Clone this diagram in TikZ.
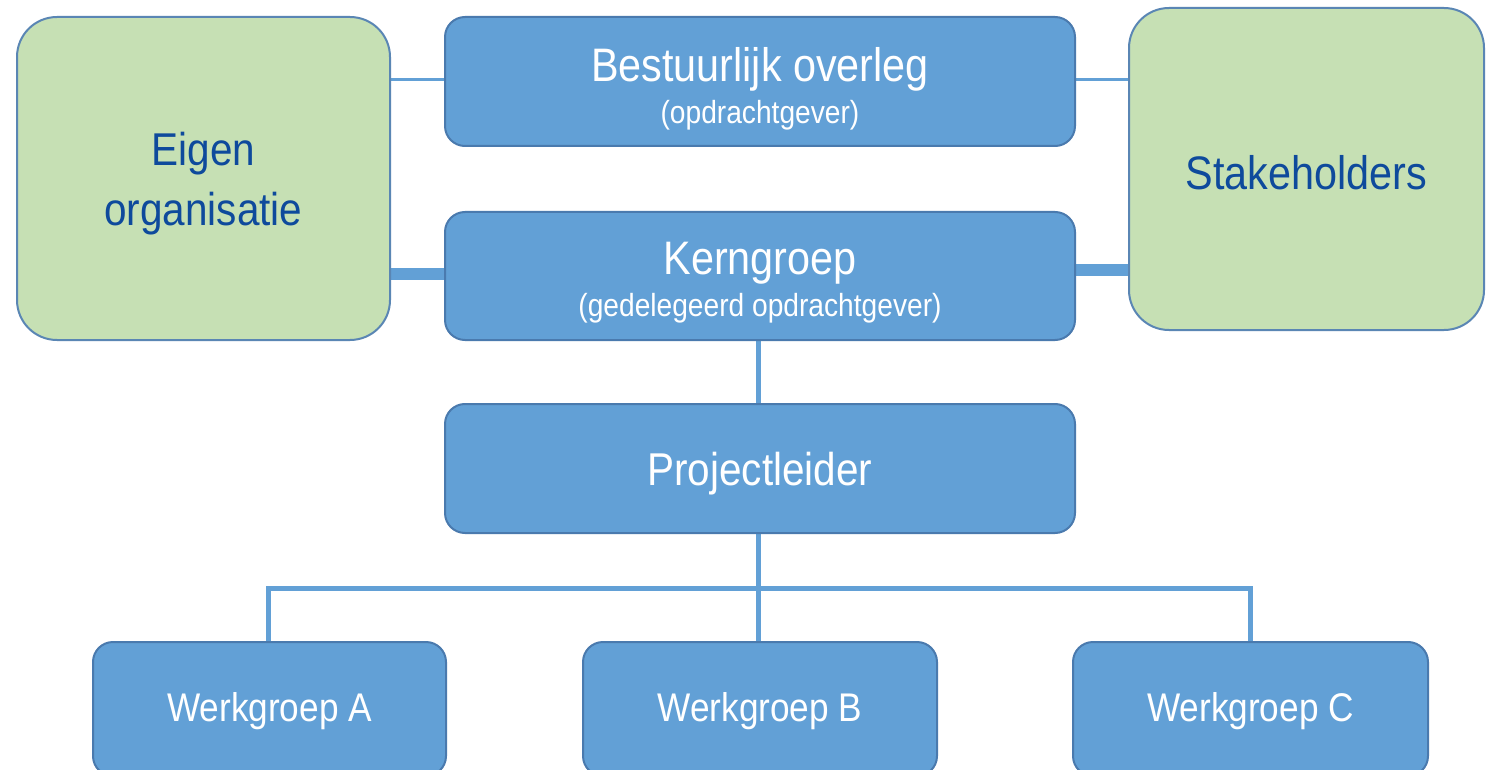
\documentclass[tikz,border=0pt]{standalone}
\usepackage{fontspec}
\setmainfont{Liberation Sans}[FakeStretch=0.88]
\usetikzlibrary{backgrounds}
\definecolor{boxblue}{HTML}{62A0D6}
\definecolor{boxblueline}{HTML}{4A7AAE}
\definecolor{boxgreen}{HTML}{C6E0B4}
\definecolor{greenline}{HTML}{5A86B4}
\definecolor{darktext}{HTML}{0E4A9C}
\definecolor{connblue}{HTML}{62A0D6}
\tikzset{
  bluebox/.style={draw=boxblueline, line width=2pt, fill=boxblue, rounded corners=20pt,
    text=white, align=center, inner sep=0pt},
  greenbox/.style={draw=greenline, line width=2pt, fill=boxgreen, rounded corners=40pt,
    text=darktext, align=center, inner sep=0pt},
  thinconn/.style={draw=connblue, line width=3pt},
  thickconn/.style={draw=connblue, line width=12pt},
  conn/.style={draw=connblue, line width=5pt},
}
\newcommand{\subline}[1]{{\fontsize{32}{32}\selectfont #1}}
\newcommand{\dn}[2]{\raisebox{-#1}[\height][\depth]{#2}}
\begin{document}
\begin{tikzpicture}[x=1pt,y=-1pt]
\useasboundingbox (0,0) rectangle (1486,770);

\node[greenbox, minimum width=373pt, minimum height=323pt,
  font=\fontsize{46}{60}\selectfont] (eo) at (203.5,178.5) {\dn{5pt}{Eigen}\\\dn{5pt}{organisatie}};
\node[greenbox, minimum width=355pt, minimum height=322pt,
  font=\fontsize{47}{47}\selectfont] (sh) at (1306.5,169) {\dn{4pt}{Stakeholders}};

\node[bluebox, minimum width=630pt, minimum height=129pt,
  font=\fontsize{47}{46}\selectfont] (bo) at (760,81.5)
  {\dn{7pt}{Bestuurlijk overleg}\\[-4pt]\dn{7pt}{\subline{(opdrachtgever)}}};
\node[bluebox, minimum width=630pt, minimum height=128pt,
  font=\fontsize{47}{46}\selectfont] (kg) at (760,276)
  {\dn{7pt}{Kerngroep}\\[-4pt]\dn{7pt}{\subline{(gedelegeerd opdrachtgever)}}};
\node[bluebox, minimum width=630pt, minimum height=129pt,
  font=\fontsize{46}{46}\selectfont] (pl) at (760,468.5) {\dn{5pt}{Projectleider}};

\node[bluebox, minimum width=353pt, minimum height=134pt,
  font=\fontsize{40}{40}\selectfont] (wa) at (269.5,709) {\dn{2pt}{Werkgroep A}};
\node[bluebox, minimum width=354pt, minimum height=134pt,
  font=\fontsize{40}{40}\selectfont] (wb) at (760,709) {\dn{2pt}{Werkgroep B}};
\node[bluebox, minimum width=355pt, minimum height=134pt,
  font=\fontsize{40}{40}\selectfont] (wc) at (1250.5,709) {\dn{2pt}{Werkgroep C}};

\coordinate (bus) at (760,588);

\begin{scope}[on background layer]
\fill[white] (0,0) rectangle (1486,770);
\draw[thinconn] ([yshift=1.5pt]bo.west) -- ([yshift=1.5pt]bo.west -| eo.east);
\draw[thinconn] ([yshift=1.5pt]bo.east) -- ([yshift=1.5pt]bo.east -| sh.west);
\draw[thickconn] ([yshift=2pt]kg.west) -- ([yshift=2pt]kg.west -| eo.east);
\draw[thickconn] ([yshift=6pt]kg.east) -- ([yshift=6pt]kg.east -| sh.west);
\draw[conn] ([xshift=-2pt]kg.south) -- ([xshift=-2pt]pl.north);
\draw[conn] ([xshift=-2pt]pl.south) -- ([xshift=-2pt]wb.north);
\draw[conn] ([xshift=-1pt]wa.north) -- ([xshift=-1pt]wa.north |- bus) -- (wc.north |- bus) -- (wc.north);
\end{scope}
\end{tikzpicture}
\end{document}
